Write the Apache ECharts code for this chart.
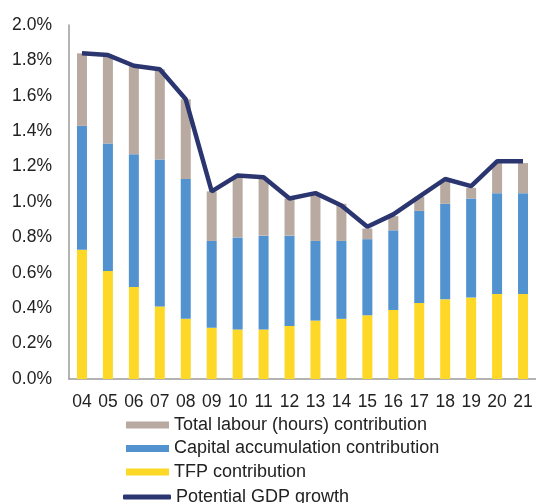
<!DOCTYPE HTML>
<html lang="en">

<head>
	<meta charset="utf-8">
	<title>Potential GDP growth</title>
	<style>
		body{ margin: 0; background: #fff; }
		#main{ width: 536px; height: 503px; }
	</style>
</head>

<body>
	<div id="main"></div>

	<script src="https://cdn.jsdelivr.net/npm/echarts@6/dist/echarts.min.js"></script>

	<script>
		var years = ['04', '05', '06', '07', '08', '09', '10', '11', '12', '13', '14', '15', '16', '17', '18', '19', '20', '21'];
		var tfp = [0.73, 0.61, 0.52, 0.41, 0.34, 0.29, 0.28, 0.28, 0.30, 0.33, 0.34, 0.36, 0.39, 0.43, 0.45, 0.46, 0.48, 0.48];
		var capital = [0.70, 0.72, 0.75, 0.83, 0.79, 0.49, 0.52, 0.53, 0.51, 0.45, 0.44, 0.43, 0.45, 0.52, 0.54, 0.56, 0.57, 0.57];
		var labour = [0.41, 0.49, 0.50, 0.51, 0.45, 0.28, 0.34, 0.32, 0.21, 0.26, 0.21, 0.06, 0.08, 0.08, 0.13, 0.06, 0.17, 0.17];
		var potential = [1.84, 1.83, 1.77, 1.75, 1.58, 1.06, 1.15, 1.14, 1.02, 1.05, 0.98, 0.86, 0.93, 1.03, 1.13, 1.09, 1.23, 1.23];

		var font = 'Liberation Sans, Arial, sans-serif';
		var chart = echarts.init(document.getElementById('main'));

		var legendText = { fontSize: 18, color: '#222', fontFamily: font };

		chart.setOption({
			animation: false,
			textStyle: { fontFamily: font },
			grid: { left: 69, right: 0, top: 25, bottom: 124 },
			legend: [
				{
					orient: 'vertical',
					left: 126,
					top: 416,
					padding: 0,
					itemWidth: 43,
					itemHeight: 7,
					itemGap: 5.5,
					textStyle: legendText,
					data: [
						{ name: 'Total labour (hours) contribution', icon: 'rect' },
						{ name: 'Capital accumulation contribution', icon: 'rect' },
						{ name: 'TFP contribution', icon: 'rect' }
					]
				},
				{
					orient: 'vertical',
					left: 123,
					top: 488,
					padding: 0,
					itemWidth: 48,
					itemHeight: 5,
					textStyle: legendText,
					data: [{ name: 'Potential GDP growth', icon: 'roundRect' }]
				}
			],
			xAxis: {
				type: 'category',
				data: years,
				axisLine: { lineStyle: { color: '#9a9a9a', width: 1.5 } },
				axisTick: { show: false },
				axisLabel: { fontSize: 17.5, color: '#222', margin: 14, fontFamily: font }
			},
			yAxis: {
				type: 'value',
				min: 0,
				max: 2,
				interval: 0.2,
				axisLine: { show: true, lineStyle: { color: '#9a9a9a', width: 1.5 } },
				axisTick: { show: false },
				splitLine: { show: false },
				axisLabel: {
					fontSize: 17.5, color: '#222', margin: 17, fontFamily: font,
					formatter: function (v) { return v.toFixed(1) + '%'; }
				}
			},
			series: [
				{ name: 'TFP contribution', type: 'bar', stack: 'g', barWidth: 10, data: tfp, itemStyle: { color: '#fdd826' } },
				{ name: 'Capital accumulation contribution', type: 'bar', stack: 'g', data: capital, itemStyle: { color: '#5192cf' } },
				{ name: 'Total labour (hours) contribution', type: 'bar', stack: 'g', data: labour, itemStyle: { color: '#b8aaa1' } },
				{
					name: 'Potential GDP growth', type: 'line', data: potential, symbol: 'none',
					lineStyle: { color: '#2b3670', width: 4.5 }, itemStyle: { color: '#2b3670' }
				}
			]
		});
	</script>
</body>

</html>
